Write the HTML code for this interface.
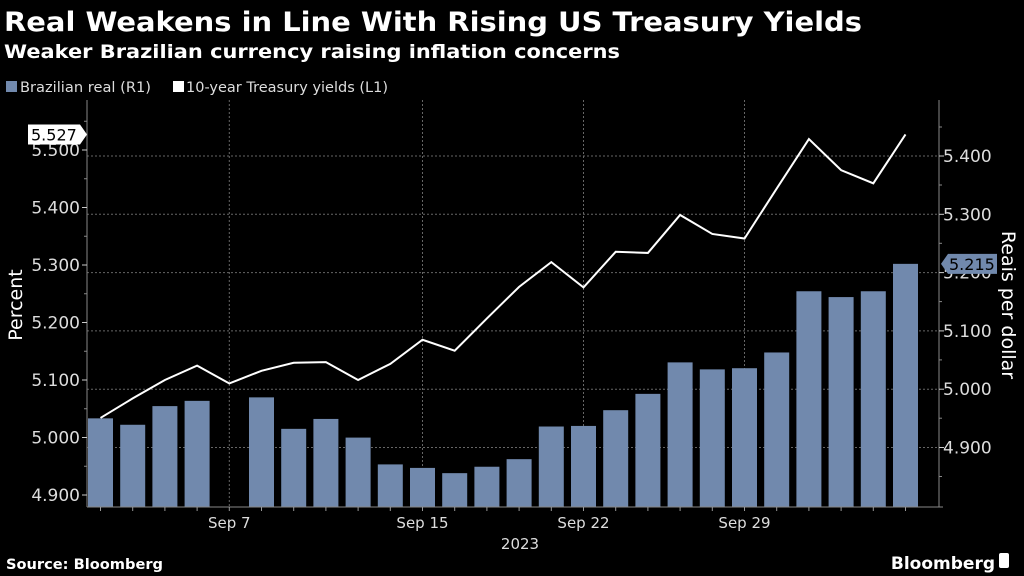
<!DOCTYPE html>
<html><head><meta charset="utf-8"><style>
html,body{margin:0;padding:0;background:#000;width:1024px;height:576px;overflow:hidden}
svg{display:block}
text{font-family:"DejaVu Sans","Liberation Sans",sans-serif}
</style></head><body>
<svg id="chart" width="1024" height="576" viewBox="0 0 1024 576">
<text x="4" y="31" fill="#fff" font-size="27" font-weight="bold" textLength="858" lengthAdjust="spacingAndGlyphs">Real Weakens in Line With Rising US Treasury Yields</text>
<text x="4" y="58" fill="#fff" font-size="19" font-weight="bold" textLength="616" lengthAdjust="spacingAndGlyphs">Weaker Brazilian currency raising inflation concerns</text>
<g>
<g><rect x="6" y="81" width="11" height="11" fill="#7189ad"/><text x="20" y="92" fill="#ddd" font-size="14" textLength="131" lengthAdjust="spacingAndGlyphs">Brazilian real (R1)</text></g>
<g><rect x="173" y="81" width="11" height="11" fill="#fff"/><text x="186" y="92" fill="#ddd" font-size="14" textLength="202" lengthAdjust="spacingAndGlyphs">10-year Treasury yields (L1)</text></g>
</g>
<g id="grid"></g>
<g id="bars"></g>
<g id="line"></g>
<g id="axes"></g>
<text transform="translate(22,305) rotate(-90)" text-anchor="middle" fill="#fff" font-size="19">Percent</text>
<text transform="translate(1002,305) rotate(90)" text-anchor="middle" fill="#fff" font-size="19">Reais per dollar</text>
<text x="520" y="549" text-anchor="middle" fill="#ddd" font-size="15">2023</text>
<text x="6" y="569" fill="#fff" font-size="14" font-weight="bold" textLength="157" lengthAdjust="spacingAndGlyphs">Source: Bloomberg</text>
<text x="995" y="569" text-anchor="end" fill="#fff" font-size="17" font-weight="bold">Bloomberg</text>
<rect x="999" y="553" width="10" height="15" rx="2" fill="#fff"/>
</svg>
<script>
const categories=["Sep 1","Sep 4","Sep 5","Sep 6","Sep 7","Sep 8","Sep 11","Sep 12","Sep 13","Sep 14","Sep 15","Sep 18","Sep 19","Sep 20","Sep 21","Sep 22","Sep 25","Sep 26","Sep 27","Sep 28","Sep 29","Oct 2","Oct 3","Oct 4","Oct 5","Oct 6"];
const realValues=[4.950,4.939,4.971,4.980,null,4.986,4.932,4.949,4.917,4.871,4.865,4.856,4.867,4.880,4.936,4.937,4.964,4.992,5.046,5.034,5.036,5.063,5.168,5.158,5.168,5.215];
const yieldValues=[5.034,5.068,5.100,5.125,5.094,5.116,5.130,5.131,5.100,5.128,5.170,5.151,5.207,5.262,5.305,5.261,5.323,5.321,5.387,5.354,5.346,5.433,5.519,5.465,5.442,5.527];
const leftTicks=[4.9,5.0,5.1,5.2,5.3,5.4,5.5];
const rightTicks=[4.9,5.0,5.1,5.2,5.3,5.4];
const xTickLabels=["Sep 7","Sep 15","Sep 22","Sep 29"];

const NS="http://www.w3.org/2000/svg";
const X0=87,X1=939,Y0=100,Y1=507;
const xC=i=>100.5+i*32.2;
const yL=v=>495-(v-4.9)*575;
const yR=v=>447.5-(v-4.9)*583;
function mk(tag,attrs,parent){const e=document.createElementNS(NS,tag);for(const k in attrs)e.setAttribute(k,attrs[k]);parent.appendChild(e);return e;}
const grid=document.getElementById('grid'),bars=document.getElementById('bars'),line=document.getElementById('line'),axes=document.getElementById('axes');

rightTicks.forEach(v=>{const g=mk('line',{x1:X0,x2:X1,y1:yR(v),y2:yR(v),stroke:'#666','stroke-dasharray':'2,2','stroke-width':1},grid);

});
xTickLabels.forEach(l=>{const i=categories.indexOf(l);const g=mk('line',{x1:xC(i),x2:xC(i),y1:Y0,y2:Y1,stroke:'#666','stroke-dasharray':'2,2','stroke-width':1},grid);

});

realValues.forEach((v,i)=>{if(v==null)return;const y=yR(v);const r=mk('rect',{x:xC(i)-12.5,y:y,width:25,height:Y1-y,fill:'#7189ad'},bars);

});

const pts=yieldValues.map((v,i)=>xC(i)+','+yL(v)).join(' ');
const pl=mk('polyline',{points:pts,fill:'none',stroke:'#fff','stroke-width':2,'stroke-linejoin':'miter'},line);



const la=mk('line',{x1:X0,x2:X0,y1:Y0,y2:Y1,stroke:'#888'},axes);


const ra=mk('line',{x1:X1,x2:X1,y1:Y0,y2:Y1,stroke:'#888'},axes);


const ba=mk('line',{x1:X0,x2:X1+4,y1:Y1,y2:Y1,stroke:'#888'},axes);



leftTicks.forEach(v=>{const y=yL(v);mk('line',{x1:X0-5,x2:X0,y1:y,y2:y,stroke:'#ccc'},axes);mk('line',{x1:X0-3,x2:X0,y1:y-28.75,y2:y-28.75,stroke:'#888'},axes);
const t=mk('text',{x:X0-7,y:y+6,'text-anchor':'end',fill:'#ddd','font-size':17},axes);t.textContent=v.toFixed(3);

});
rightTicks.forEach(v=>{const y=yR(v);mk('line',{x1:X1,x2:X1+5,y1:y,y2:y,stroke:'#ccc'},axes);mk('line',{x1:X1,x2:X1+3,y1:y+29,y2:y+29,stroke:'#888'},axes);
const t=mk('text',{x:X1+4,y:y+6,fill:'#ddd','font-size':17},axes);t.textContent=v.toFixed(3);

});
mk('line',{x1:X1,x2:X1+3,y1:yR(5.4)-29,y2:yR(5.4)-29,stroke:'#888'},axes);
categories.forEach((c,i)=>{mk('line',{x1:xC(i),x2:xC(i),y1:Y1,y2:Y1+4,stroke:'#999'},axes);});
xTickLabels.forEach(l=>{const i=categories.indexOf(l);const t=mk('text',{x:xC(i),y:528,'text-anchor':'middle',fill:'#ddd','font-size':15},axes);t.textContent=l;

});

const ly=yL(yieldValues[yieldValues.length-1]);
const tg=mk('g',{},axes);


mk('path',{d:`M28 ${ly-10} H80 L87 ${ly} L80 ${ly+10} H28 Z`,fill:'#fff'},tg);
const lt=mk('text',{x:31,y:ly+6,fill:'#000','font-size':16},tg);lt.textContent=yieldValues[yieldValues.length-1].toFixed(3);
const ry=yR(realValues[realValues.length-1]);
const tr=mk('g',{},axes);


mk('path',{d:`M941 ${ry} L948 ${ry-10} H997 V${ry+10} H948 Z`,fill:'#7189ad'},tr);
const rt=mk('text',{x:949,y:ry+6,fill:'#000','font-size':16},tr);rt.textContent=realValues[realValues.length-1].toFixed(3);
</script>
</body></html>
